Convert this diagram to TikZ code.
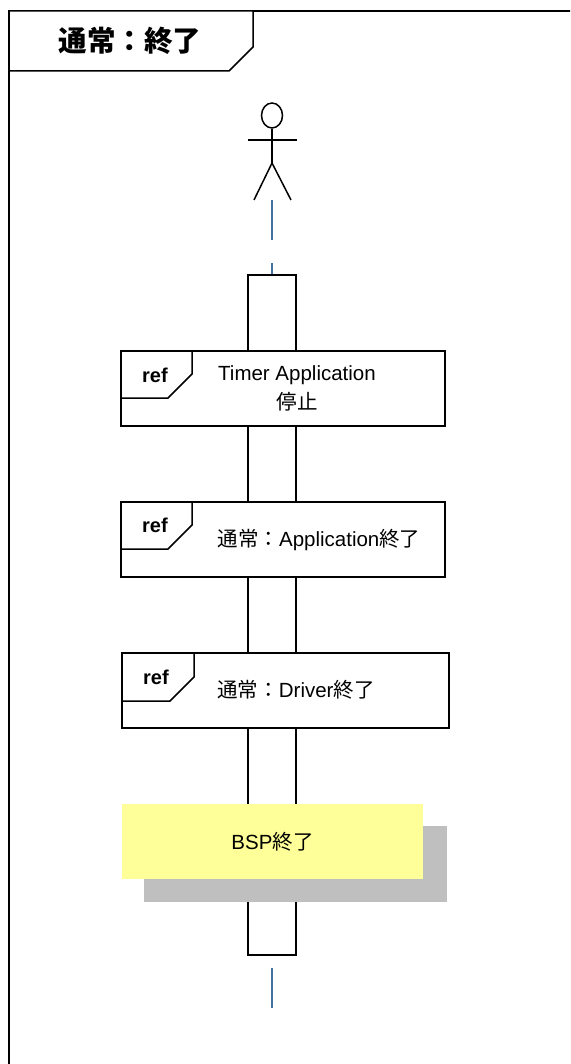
\documentclass[tikz,border=0pt]{standalone}
\usepackage{fontspec}
\setmainfont{Liberation Sans}
\newfontfamily\jp{Noto Sans CJK JP}
\usetikzlibrary{calc,shapes.geometric}
\definecolor{lineblue}{HTML}{41719C}
\definecolor{notey}{HTML}{FFFF99}
\definecolor{noteshadow}{HTML}{BFBFBF}

\begin{document}
\begin{tikzpicture}[x=1pt,y=-1pt,
    lw/.style={line width=1.5pt},
    refbox/.style={draw,lw,fill=white,minimum width=324pt,minimum height=75pt,inner sep=0pt},
    reftext/.style={font=\fontsize{20.5}{25}\selectfont,align=center,inner sep=0pt},
    lifeline/.style={draw=lineblue,line width=1.7pt}]
                    \clip (0,0) rectangle (570,1064);
                    \fill[white] (0,0) rectangle (570,1064);
                    % frame
                    \draw[lw] (9,11) rectangle (600,1100);
                    \draw[lw,fill=white] (9,11) -- (253,11) -- (253,47) -- (229,71) -- (9,71) -- cycle;
                    \node[font=\jp\bfseries\fontsize{28.5}{32}\selectfont] (title) at (130,41) {通常：終了};
                    % actor
                    \node[draw,lw,ellipse,minimum width=21pt,minimum height=25pt,inner sep=0pt] (head) at (272,115.5) {};
                    \coordinate (hip) at (272,163);
                    \coordinate (feet) at (272,200);
                    \draw[lw] (head.south) -- (hip);
                    \draw[lw] (248,140) -- (297,140);
                    \draw[lw] (254,200) -- (hip) -- (291,200);
                    % activation
                    \node[draw,lw,fill=white,minimum width=48pt,minimum height=680pt,inner sep=0pt] (act) at (272,615) {};
                    \draw[lifeline,dash pattern=on 40pt off 23pt] (feet) -- (act.north);
                    \coordinate (end) at (272,1008);
                    \draw[lifeline] ($(act.south)+(0,12)$) -- (end);
                    % refs
                    \node[refbox] (r1) at (283,388.5) {};
                    \draw[lw] (121,351) -- (192,351) -- (192,374) -- (168,398) -- (121,398);
                    \node[font=\bfseries\fontsize{20}{24}\selectfont] (ref1) at (155,375) {ref};
                    \node[reftext] (t1) at (297,388) {Timer Application\\[4pt]{\jp 停止}};
                    \node[refbox] (r2) at (283,539.5) {};
                    \draw[lw] (121,502) -- (192,502) -- (192,525) -- (168,549) -- (121,549);
                    \node[font=\bfseries\fontsize{20}{24}\selectfont] (ref2) at (155,525) {ref};
                    \node[reftext] (t2) at (319,540) {{\jp 通常：}Application{\jp 終了}};
                    \node[refbox,minimum width=327pt] (r3) at (285.5,690.5) {};
                    \draw[lw] (122,653) -- (194,653) -- (194,677) -- (170,701) -- (122,701);
                    \node[font=\bfseries\fontsize{20}{24}\selectfont] (ref3) at (156,677) {ref};
                    \node[reftext] (t3) at (296,690) {{\jp 通常：}Driver{\jp 終了}};
                    % BSP
                    \fill[noteshadow] (144,826) rectangle (447,902);
                    \node[fill=notey,minimum width=301pt,minimum height=75pt,reftext] (bsp) at (272.5,841.5) {BSP{\jp 終了}};
                \end{tikzpicture}
\end{document}
